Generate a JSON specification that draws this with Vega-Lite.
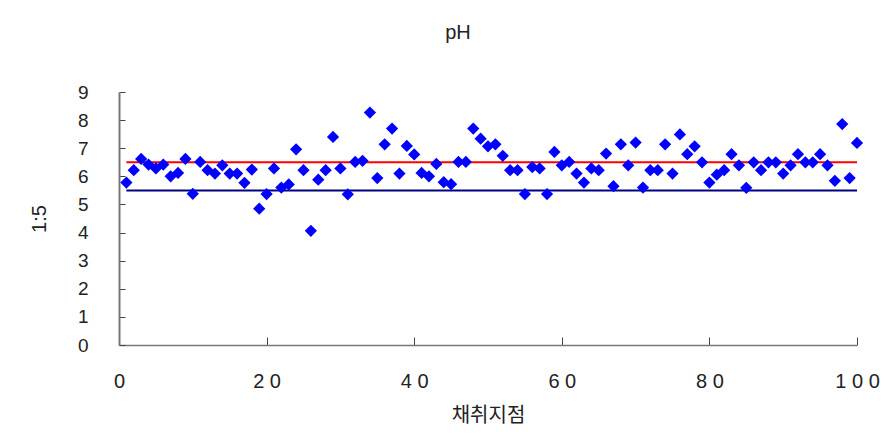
{
  "$schema": "https://vega.github.io/schema/vega-lite/v6.json",
  "autosize": {"type": "none"},
  "padding": {"left": 119, "top": 92, "right": 37, "bottom": 102},
  "width": 738,
  "height": 253,
  "background": "white",
  "config": {
    "view": {"stroke": null},
    "font": "Liberation Sans, Noto Sans CJK KR"
  },
  "title": {
    "text": "pH",
    "fontSize": 20,
    "fontWeight": "normal",
    "font": "Liberation Sans",
    "color": "#222",
    "offset": 40,
    "dx": -30
  },
  "datasets": {
    "pts": [
      {"site": 1, "ph": 5.78}, {"site": 2, "ph": 6.22}, {"site": 3, "ph": 6.62}, {"site": 4, "ph": 6.42}, {"site": 5, "ph": 6.28},
      {"site": 6, "ph": 6.42}, {"site": 7, "ph": 6.0}, {"site": 8, "ph": 6.12}, {"site": 9, "ph": 6.62}, {"site": 10, "ph": 5.38},
      {"site": 11, "ph": 6.51}, {"site": 12, "ph": 6.22}, {"site": 13, "ph": 6.1}, {"site": 14, "ph": 6.39}, {"site": 15, "ph": 6.1},
      {"site": 16, "ph": 6.1}, {"site": 17, "ph": 5.77}, {"site": 18, "ph": 6.24}, {"site": 19, "ph": 4.85}, {"site": 20, "ph": 5.37},
      {"site": 21, "ph": 6.28}, {"site": 22, "ph": 5.6}, {"site": 23, "ph": 5.71}, {"site": 24, "ph": 6.96}, {"site": 25, "ph": 6.22},
      {"site": 26, "ph": 4.06}, {"site": 27, "ph": 5.88}, {"site": 28, "ph": 6.22}, {"site": 29, "ph": 7.4}, {"site": 30, "ph": 6.28},
      {"site": 31, "ph": 5.36}, {"site": 32, "ph": 6.51}, {"site": 33, "ph": 6.55}, {"site": 34, "ph": 8.27}, {"site": 35, "ph": 5.94},
      {"site": 36, "ph": 7.14}, {"site": 37, "ph": 7.7}, {"site": 38, "ph": 6.1}, {"site": 39, "ph": 7.08}, {"site": 40, "ph": 6.78},
      {"site": 41, "ph": 6.12}, {"site": 42, "ph": 6.0}, {"site": 43, "ph": 6.44}, {"site": 44, "ph": 5.79}, {"site": 45, "ph": 5.72},
      {"site": 46, "ph": 6.51}, {"site": 47, "ph": 6.51}, {"site": 48, "ph": 7.7}, {"site": 49, "ph": 7.34}, {"site": 50, "ph": 7.07},
      {"site": 51, "ph": 7.14}, {"site": 52, "ph": 6.73}, {"site": 53, "ph": 6.22}, {"site": 54, "ph": 6.22}, {"site": 55, "ph": 5.37},
      {"site": 56, "ph": 6.33}, {"site": 57, "ph": 6.28}, {"site": 58, "ph": 5.37}, {"site": 59, "ph": 6.87}, {"site": 60, "ph": 6.39},
      {"site": 61, "ph": 6.51}, {"site": 62, "ph": 6.1}, {"site": 63, "ph": 5.78}, {"site": 64, "ph": 6.28}, {"site": 65, "ph": 6.22},
      {"site": 66, "ph": 6.81}, {"site": 67, "ph": 5.65}, {"site": 68, "ph": 7.14}, {"site": 69, "ph": 6.39}, {"site": 70, "ph": 7.2},
      {"site": 71, "ph": 5.6}, {"site": 72, "ph": 6.22}, {"site": 73, "ph": 6.22}, {"site": 74, "ph": 7.14}, {"site": 75, "ph": 6.1},
      {"site": 76, "ph": 7.49}, {"site": 77, "ph": 6.79}, {"site": 78, "ph": 7.07}, {"site": 79, "ph": 6.5}, {"site": 80, "ph": 5.78},
      {"site": 81, "ph": 6.06}, {"site": 82, "ph": 6.22}, {"site": 83, "ph": 6.79}, {"site": 84, "ph": 6.39}, {"site": 85, "ph": 5.59},
      {"site": 86, "ph": 6.5}, {"site": 87, "ph": 6.22}, {"site": 88, "ph": 6.5}, {"site": 89, "ph": 6.5}, {"site": 90, "ph": 6.1},
      {"site": 91, "ph": 6.39}, {"site": 92, "ph": 6.79}, {"site": 93, "ph": 6.5}, {"site": 94, "ph": 6.5}, {"site": 95, "ph": 6.79},
      {"site": 96, "ph": 6.39}, {"site": 97, "ph": 5.84}, {"site": 98, "ph": 7.86}, {"site": 99, "ph": 5.94}, {"site": 100, "ph": 7.19}
    ],
    "limits": [
      {"site": 1, "ph": 6.5, "limit": "upper"}, {"site": 100, "ph": 6.5, "limit": "upper"},
      {"site": 1, "ph": 5.5, "limit": "lower"}, {"site": 100, "ph": 5.5, "limit": "lower"}
    ]
  },
  "encoding": {
    "x": {
      "field": "site", "type": "quantitative",
      "scale": {"domain": [0, 100], "nice": false, "zero": false},
      "axis": {
        "title": "채취지점",
        "titleFont": "Noto Sans CJK KR",
        "titleFontSize": 20,
        "titleFontWeight": "normal",
        "titleColor": "#222",
        "titlePadding": 14,
        "values": [0, 20, 40, 60, 80, 100],
        "labelExpr": "join(split(datum.label, ''), ' ')",
        "labelFontSize": 20,
        "labelColor": "#222",
        "labelPadding": 34,
        "tickSize": -8,
        "tickColor": "#444",
        "domainColor": "#777",
        "domainWidth": 1.5,
        "grid": false,
        "labelFlush": false
      }
    },
    "y": {
      "field": "ph", "type": "quantitative",
      "scale": {"domain": [0, 9], "nice": false},
      "axis": {
        "title": "1:5",
        "titleFontSize": 20,
        "titleFontWeight": "normal",
        "titleColor": "#222",
        "titlePadding": 28,
        "values": [0, 1, 2, 3, 4, 5, 6, 7, 8, 9],
        "labelFontSize": 19,
        "labelColor": "#222",
        "labelPadding": 37,
        "tickSize": -6,
        "tickColor": "#444",
        "domainColor": "#777",
        "domainWidth": 2,
        "grid": false
      }
    }
  },
  "layer": [
    {
      "data": {"name": "limits"},
      "mark": {"type": "line", "strokeWidth": 2},
      "encoding": {
        "color": {
          "field": "limit", "type": "nominal",
          "scale": {"domain": ["upper", "lower"], "range": ["#ff0000", "#000080"]},
          "legend": null
        }
      }
    },
    {
      "data": {"name": "pts"},
      "mark": {"type": "point", "shape": "diamond", "filled": true, "color": "#0000ff", "size": 150, "opacity": 1}
    }
  ]
}
